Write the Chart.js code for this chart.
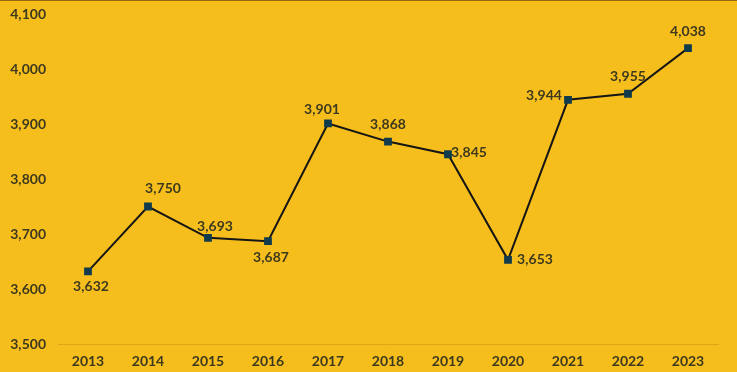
<!DOCTYPE html>
<html>
<head>
<meta charset="utf-8">
<script src="https://cdn.jsdelivr.net/npm/chart.js@4/dist/chart.umd.min.js"></script>
<style>
    html, body { margin: 0; padding: 0; background: #f6be1c; }
    #caja {
        position: relative;
        width: 737px;
        height: 372px;
        background: #f6be1c;
        overflow: hidden;
    }
    #caja::before {
        content: '';
        position: absolute;
        left: 0; top: 0; width: 100%;
        height: 1px;
        background: #8f6d12;
        box-shadow: 0 1px 0 #ffb90f;
        z-index: 2;
    }
</style>
</head>
<body>
<div id="caja"><canvas id="grafico" width="737" height="372"></canvas></div>
<script>
// Datos
const años = ['2013', '2014', '2015', '2016', '2017', '2018', '2019', '2020', '2021', '2022', '2023'];
const valores = [3632, 3750, 3693, 3687, 3901, 3868, 3845, 3653, 3944, 3955, 4038];
const ejeMin = 3500;
const ejeMax = 4100;
const ejePaso = 100;

// Posición de cada etiqueta respecto a su punto (dx, dy)
const desplazEtiquetas = [
    [3, 15], [15, -18], [7, -11], [3, 16], [-6, -14], [0, -17],
    [21, -2], [27, 0], [-24, -4], [0, -17], [0, -17]
];

const colorTexto = '#3d3920';
const fuente = { family: 'Lato', size: 14, weight: 'bold' };

// Plugin sencillo para las etiquetas de datos
const etiquetasDatos = {
    id: 'etiquetasDatos',
    afterDatasetsDraw(chart) {
        const ctx = chart.ctx;
        const meta = chart.getDatasetMeta(0);
        ctx.save();
        ctx.font = 'bold 14px Lato';
        ctx.fillStyle = colorTexto;
        ctx.textAlign = 'center';
        ctx.textBaseline = 'middle';
        meta.data.forEach((p, i) => {
            const [dx, dy] = desplazEtiquetas[i];
            ctx.fillText(valores[i].toLocaleString('en-US'), p.x + dx, p.y + dy);
        });
        ctx.restore();
    }
};

new Chart(document.getElementById('grafico'), {
    type: 'line',
    data: {
        labels: años,
        datasets: [{
            data: valores,
            borderColor: '#161616',
            borderWidth: 2,
            tension: 0,
            pointStyle: 'rect',
            pointRadius: 5.5,
            pointBorderWidth: 0,
            pointBackgroundColor: '#0f3b4d',
            pointBorderColor: '#0f3b4d'
        }]
    },
    options: {
        responsive: false,
        animation: false,
        layout: { padding: { top: 14, right: 19, left: 0, bottom: 0 } },
        plugins: {
            legend: { display: false },
            tooltip: { enabled: false }
        },
        scales: {
            x: {
                offset: true,
                grid: { display: false, drawTicks: false },
                border: { display: true, color: '#dba718', width: 1 },
                ticks: { color: colorTexto, font: fuente, padding: 9, maxRotation: 0 },
                afterFit(scale) { scale.height = 28; scale.paddingLeft = 0; scale.paddingRight = 0; }
            },
            y: {
                min: ejeMin,
                max: ejeMax,
                grid: { display: false, drawTicks: false },
                border: { display: false },
                ticks: {
                    stepSize: ejePaso,
                    color: colorTexto,
                    font: fuente,
                    padding: 12,
                    callback: v => v.toLocaleString('en-US')
                },
                afterFit(scale) { scale.width = 58; scale.paddingTop = 0; scale.paddingBottom = 0; }
            }
        }
    },
    plugins: [etiquetasDatos]
});
</script>
</body>
</html>
